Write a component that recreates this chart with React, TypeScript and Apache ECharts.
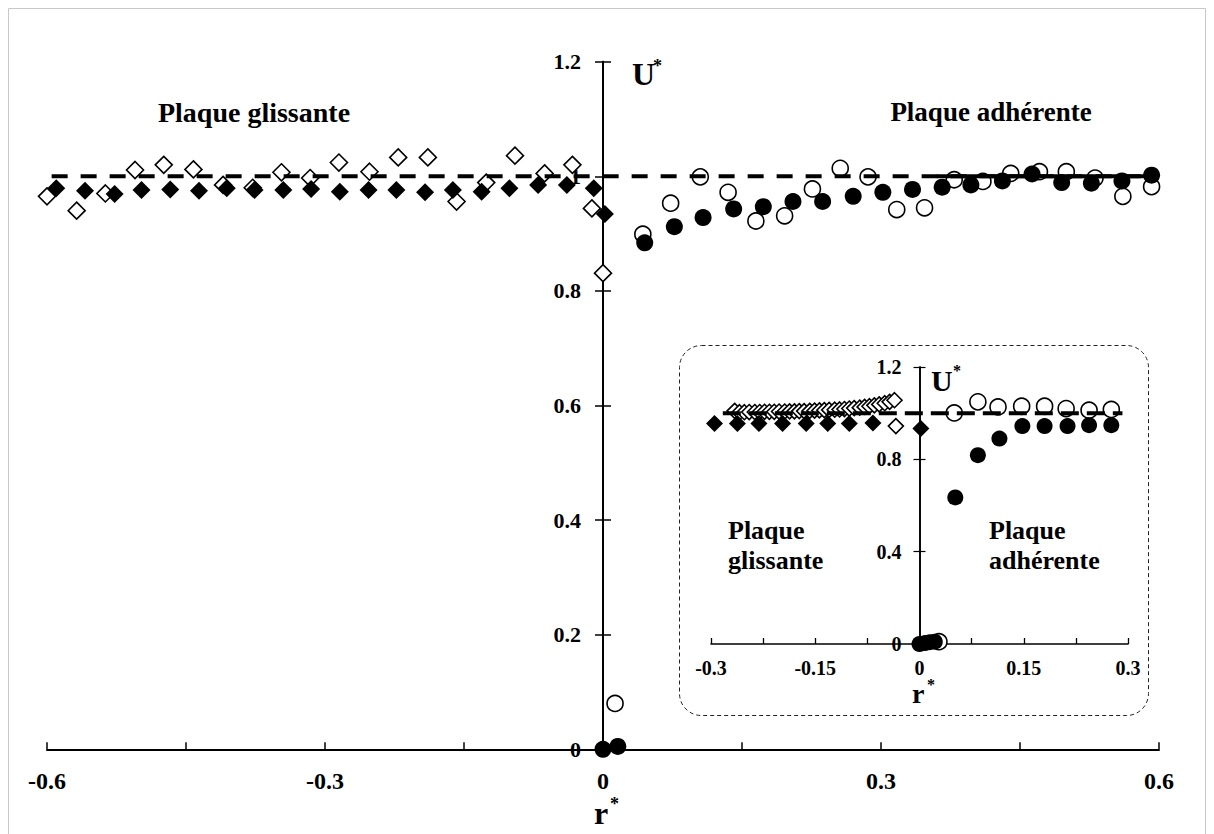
import React, { useEffect, useRef } from 'react';
import * as echarts from 'echarts';

const FONT = '"Liberation Serif", "Times New Roman", serif';

// ---------- Main chart data ----------
const mainOpenDiamondX = [-0.600, -0.568, -0.537, -0.505, -0.474, -0.442, -0.410, -0.378, -0.347, -0.316, -0.285, -0.252, -0.221, -0.189, -0.158, -0.126, -0.095, -0.063, -0.033, -0.012, 0.000];
const mainOpenDiamondY = [0.965, 0.940, 0.970, 1.011, 1.020, 1.012, 0.985, 0.980, 1.007, 0.997, 1.024, 1.008, 1.033, 1.033, 0.956, 0.989, 1.036, 1.005, 1.020, 0.944, 0.831];

const mainFilledDiamondX = [-0.590, -0.559, -0.527, -0.498, -0.467, -0.436, -0.406, -0.376, -0.345, -0.315, -0.284, -0.253, -0.223, -0.192, -0.162, -0.131, -0.101, -0.070, -0.039, -0.010, 0.002];
const mainFilledDiamondY = [0.979, 0.975, 0.969, 0.976, 0.977, 0.975, 0.979, 0.976, 0.976, 0.978, 0.973, 0.976, 0.976, 0.972, 0.976, 0.973, 0.979, 0.985, 0.985, 0.979, 0.934];

const mainOpenCircleX = [0.013, 0.043, 0.073, 0.105, 0.135, 0.165, 0.196, 0.226, 0.256, 0.286, 0.317, 0.347, 0.379, 0.410, 0.440, 0.471, 0.500, 0.531, 0.561, 0.592];
const mainOpenCircleY = [0.080, 0.899, 0.953, 0.999, 0.972, 0.922, 0.931, 0.978, 1.014, 0.999, 0.942, 0.945, 0.994, 0.991, 1.005, 1.008, 1.008, 0.997, 0.965, 0.982];

const mainFilledCircleX = [0.000, 0.016, 0.045, 0.077, 0.108, 0.141, 0.173, 0.205, 0.237, 0.270, 0.302, 0.334, 0.366, 0.397, 0.431, 0.463, 0.495, 0.527, 0.560, 0.592];
const mainFilledCircleY = [0.000, 0.005, 0.884, 0.912, 0.928, 0.943, 0.947, 0.956, 0.956, 0.965, 0.972, 0.977, 0.981, 0.985, 0.992, 1.004, 0.989, 0.988, 0.992, 1.002];

const mainDashedX = [-0.595, 0.6];
const mainDashedY = [1, 1];
const mainSolidX = [0.36, 0.6];
const mainSolidY = [1, 1];

// ---------- Inset data ----------
const insetOpenDiamondX = [-0.266, -0.259, -0.252, -0.245, -0.237, -0.230, -0.223, -0.216, -0.209, -0.202, -0.194, -0.187, -0.180, -0.173, -0.166, -0.158, -0.151, -0.144, -0.137, -0.130, -0.122, -0.115, -0.108, -0.101, -0.094, -0.086, -0.079, -0.072, -0.065, -0.058, -0.050, -0.043, -0.036, -0.034];
const insetOpenDiamondY = [1.010, 1.004, 1.004, 1.005, 1.005, 1.005, 1.006, 1.006, 1.006, 1.007, 1.007, 1.008, 1.008, 1.009, 1.009, 1.010, 1.011, 1.012, 1.013, 1.014, 1.015, 1.016, 1.018, 1.020, 1.022, 1.024, 1.027, 1.030, 1.034, 1.038, 1.043, 1.049, 1.056, 0.944];

const insetFilledDiamondX = [-0.295, -0.262, -0.231, -0.197, -0.163, -0.132, -0.101, -0.067, 0.002];
const insetFilledDiamondY = [0.955, 0.955, 0.955, 0.955, 0.955, 0.955, 0.955, 0.957, 0.934];

const insetOpenCircleX = [0.028, 0.050, 0.084, 0.113, 0.147, 0.180, 0.211, 0.244, 0.276];
const insetOpenCircleY = [0.010, 1.001, 1.049, 1.027, 1.030, 1.030, 1.020, 1.013, 1.016];

const insetFilledCircleX = [0.000, 0.008, 0.015, 0.022, 0.0515, 0.084, 0.115, 0.148, 0.180, 0.213, 0.244, 0.276];
const insetFilledCircleY = [0.000, 0.004, 0.008, 0.010, 0.635, 0.818, 0.890, 0.944, 0.944, 0.944, 0.948, 0.948];

const insetDashedX = [-0.283, 0.292];
const insetDashedY = [1, 1];

// tick label texts
const mainXLabels = ['-0.6', '-0.3', '0', '0.3', '0.6'];
const insetXLabels = ['-0.3', '-0.15', '0', '0.15', '0.3'];
const sideLeftTitle = 'Plaque glissante';
const sideRightTitle = 'Plaque adhérente';

const zip = (xs: number[], ys: number[]) => xs.map((x, i) => [x, ys[i]]);

const fmtNum = (v: number) => String(Math.round(v * 1000) / 1000);

const labelStyle = (size: number, margin: number) => ({
  fontFamily: FONT,
  fontWeight: 'bold',
  fontSize: size,
  color: '#000',
  margin,
});

// grid geometry
const MAIN_LEFT = 47;
const MAIN_RIGHT = 55;
const INSET_LEFT = 711;
const INSET_RIGHT = 86;
const W = 1214;
// offset (px) that moves a left y axis onto x = 0 of its grid
const mainZeroOffset = -((W - MAIN_LEFT - MAIN_RIGHT) / 2);
const insetZeroOffset = -((W - INSET_LEFT - INSET_RIGHT) / 2);

export default function App() {
  const ref = useRef<HTMLDivElement>(null);

  useEffect(() => {
    const chart = echarts.init(ref.current!, null, { renderer: 'svg' });

    const openStyle = { color: '#fff', borderColor: '#000', borderWidth: 1.6, opacity: 1 };
    const filledStyle = { color: '#000', borderColor: '#000', borderWidth: 0, opacity: 1 };

    const scatter = (data: number[][], symbol: string, size: number, style: any, xi: number, yi: number) => ({
      type: 'scatter',
      xAxisIndex: xi,
      yAxisIndex: yi,
      symbol,
      symbolSize: size,
      itemStyle: style,
      data,
      silent: true,
    });
    const line = (data: number[][], dash: any, width: number, xi: number, yi: number) => ({
      type: 'line',
      xAxisIndex: xi,
      yAxisIndex: yi,
      symbol: 'none',
      showSymbol: false,
      lineStyle: { color: '#000', width, type: dash },
      data,
      silent: true,
    });

    const yAx = (grid: number, interval: number, offset: number, inside: boolean, labels: boolean, len: number, lw: number, fs: number, margin: number) => ({
      gridIndex: grid,
      type: 'value',
      position: 'left',
      offset,
      min: 0,
      max: 1.2,
      interval,
      axisLine: { onZero: false, lineStyle: { color: '#000', width: lw } },
      axisTick: { inside, length: len, lineStyle: { color: '#000', width: lw * 0.75 } },
      axisLabel: labels
        ? { ...labelStyle(fs, margin), formatter: (v: number) => fmtNum(v) }
        : { show: false },
      splitLine: { show: false },
    });

    const option: any = {
      animation: false,
      backgroundColor: '#fff',
      grid: [
        { left: MAIN_LEFT, right: MAIN_RIGHT, top: 61.7, bottom: 84.7 },
        { left: INSET_LEFT, right: INSET_RIGHT, top: 367, bottom: 190 },
      ],
      xAxis: [
        {
          gridIndex: 0,
          type: 'value',
          min: -0.6,
          max: 0.6,
          interval: 0.15,
          axisLine: { onZero: false, lineStyle: { color: '#000', width: 2 } },
          axisTick: { inside: true, length: 7, lineStyle: { color: '#000', width: 1.5 } },
          axisLabel: {
            ...labelStyle(24, 20),
            formatter: (v: number) => {
              const s = fmtNum(v);
              return mainXLabels.includes(s) ? s : '';
            },
          },
          splitLine: { show: false },
        },
        {
          gridIndex: 1,
          type: 'value',
          min: -0.3,
          max: 0.3,
          interval: 0.075,
          axisLine: { onZero: false, lineStyle: { color: '#000', width: 1.6 } },
          axisTick: { inside: true, length: 6, lineStyle: { color: '#000', width: 1.3 } },
          axisLabel: {
            ...labelStyle(20, 14),
            formatter: (v: number) => {
              const s = fmtNum(v);
              return insetXLabels.includes(s) ? s : '';
            },
          },
          splitLine: { show: false },
        },
      ],
      yAxis: [
        yAx(0, 0.2, mainZeroOffset, false, true, 8, 2, 22, 22),
        yAx(0, 0.2, mainZeroOffset, true, false, 8, 2, 22, 22),
        yAx(1, 0.4, insetZeroOffset, false, true, 6, 1.6, 20, 18),
        yAx(1, 0.4, insetZeroOffset, true, false, 6, 1.6, 20, 18),
      ],
      series: [
        // main
        scatter(zip(mainOpenDiamondX, mainOpenDiamondY), 'diamond', 17, openStyle, 0, 0),
        scatter(zip(mainOpenCircleX, mainOpenCircleY), 'circle', 16, openStyle, 0, 0),
        line(zip(mainDashedX, mainDashedY), [16, 13], 4, 0, 0),
        line(zip(mainSolidX, mainSolidY), 'solid', 4, 0, 0),
        scatter(zip(mainFilledDiamondX, mainFilledDiamondY), 'diamond', 18, filledStyle, 0, 0),
        scatter(zip(mainFilledCircleX, mainFilledCircleY), 'circle', 17, filledStyle, 0, 0),
        // inset
        scatter(zip(insetOpenDiamondX, insetOpenDiamondY), 'diamond', 15, openStyle, 1, 2),
        scatter(zip(insetOpenCircleX, insetOpenCircleY), 'circle', 16, openStyle, 1, 2),
        line(zip(insetDashedX, insetDashedY), [18, 8], 4, 1, 2),
        scatter(zip(insetFilledDiamondX, insetFilledDiamondY), 'diamond', 17, filledStyle, 1, 2),
        scatter(zip(insetFilledCircleX, insetFilledCircleY), 'circle', 16, filledStyle, 1, 2),
      ],
      graphic: [
        {
          type: 'rect',
          silent: true,
          z: -10,
          shape: { x: 8.5, y: 8.5, width: 1197, height: 830 },
          style: { fill: 'none', stroke: '#c8c8c8', lineWidth: 1 },
        },
        {
          type: 'rect',
          silent: true,
          shape: { x: 679.5, y: 345.5, width: 469, height: 370, r: 22 },
          style: { fill: 'none', stroke: '#222', lineWidth: 1, lineDash: [4, 3] },
        },
        // main titles
        {
          type: 'text', x: 254, y: 112, silent: true,
          style: { text: sideLeftTitle, font: `bold 28px ${FONT}`, fill: '#000', align: 'center', verticalAlign: 'middle' },
        },
        {
          type: 'text', x: 991, y: 112, silent: true,
          style: { text: sideRightTitle, font: `bold 27px ${FONT}`, fill: '#000', align: 'center', verticalAlign: 'middle' },
        },
        // main axis names
        {
          type: 'text', x: 632, y: 74, silent: true,
          style: { text: 'U', font: `bold 32px ${FONT}`, fill: '#000', align: 'left', verticalAlign: 'middle' },
        },
        {
          type: 'text', x: 653, y: 66, silent: true,
          style: { text: '*', font: `bold 18px ${FONT}`, fill: '#000', align: 'left', verticalAlign: 'middle' },
        },
        {
          type: 'text', x: 601, y: 813, silent: true,
          style: { text: 'r', font: `bold 32px ${FONT}`, fill: '#000', align: 'center', verticalAlign: 'middle' },
        },
        {
          type: 'text', x: 610, y: 804, silent: true,
          style: { text: '*', font: `bold 18px ${FONT}`, fill: '#000', align: 'left', verticalAlign: 'middle' },
        },
        // inset texts
        {
          type: 'text', x: 728, y: 545, silent: true,
          style: { text: 'Plaque\nglissante', font: `bold 26px ${FONT}`, lineHeight: 30, fill: '#000', align: 'left', verticalAlign: 'middle' },
        },
        {
          type: 'text', x: 989, y: 545, silent: true,
          style: { text: 'Plaque\nadhérente', font: `bold 26px ${FONT}`, lineHeight: 30, fill: '#000', align: 'left', verticalAlign: 'middle' },
        },
        {
          type: 'text', x: 931, y: 380, silent: true,
          style: { text: 'U', font: `bold 30px ${FONT}`, fill: '#000', align: 'left', verticalAlign: 'middle' },
        },
        {
          type: 'text', x: 953, y: 370, silent: true,
          style: { text: '*', font: `bold 16px ${FONT}`, fill: '#000', align: 'left', verticalAlign: 'middle' },
        },
        {
          type: 'text', x: 912, y: 693, silent: true,
          style: { text: 'r', font: `bold 28px ${FONT}`, fill: '#000', align: 'left', verticalAlign: 'middle' },
        },
        {
          type: 'text', x: 927, y: 684, silent: true,
          style: { text: '*', font: `bold 16px ${FONT}`, fill: '#000', align: 'left', verticalAlign: 'middle' },
        },
      ],
    };

    chart.setOption(option);
    return () => chart.dispose();
  }, []);

  return (
    <div
      ref={ref}
      style={{ position: 'fixed', left: 0, top: 0, width: 1214, height: 834, background: '#fff' }}
    />
  );
}
